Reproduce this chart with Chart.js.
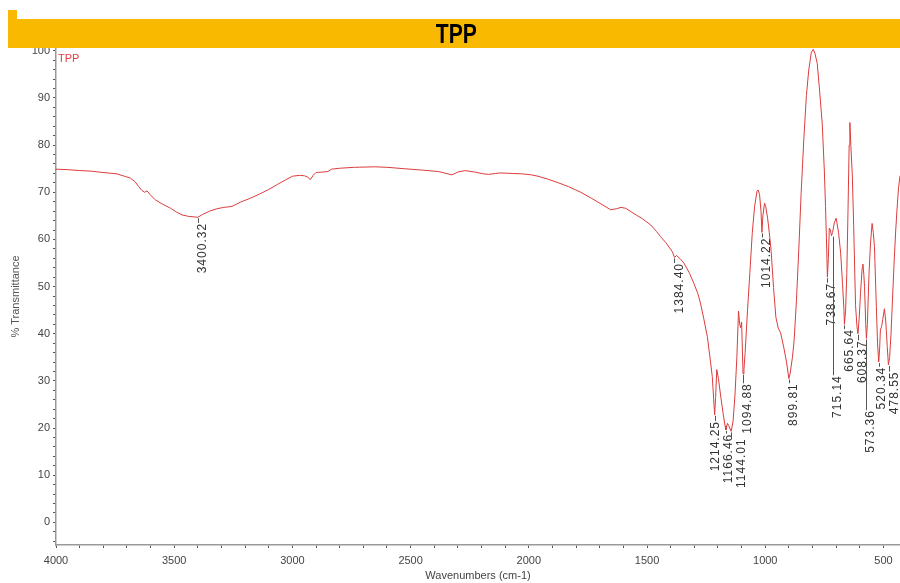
<!DOCTYPE html>
<html>
<head>
<meta charset="utf-8">
<script src="https://cdn.jsdelivr.net/npm/chart.js@4.4.0/dist/chart.umd.min.js"></script>
<style>
  html, body { margin: 0; padding: 0; background: #fff; }
  #wrap { position: relative; width: 900px; height: 583px; }
  canvas { position: absolute; left: 0; top: 0; }
  .bar { position: absolute; background: #f9b900; }
  #title { position: absolute; left: 10px; top: 19px; width: 892px; height: 29px; line-height: 29px;
           text-align: center; color: #000; }
  #title span { display: inline-block; transform: scaleX(0.78); font: bold 27px 'Liberation Sans', Arial, sans-serif; }
</style>
</head>
<body>
<div id="wrap">
  <canvas id="canvas" width="900" height="583"></canvas>
  <div class="bar" style="left:8px;top:10px;width:9px;height:10px"></div>
  <div class="bar" style="left:8px;top:19px;width:892px;height:29px"></div>
  <div id="title"><span>TPP</span></div>
</div>
<script>
// spectrum (cm-1, % transmittance)
const wavenumbers = [
  4000, 3950, 3900, 3855, 3820, 3780, 3742, 3710, 3685, 3665, 3650, 3637, 3625, 3615, 3600,
  3580, 3550, 3515, 3490, 3467, 3440, 3400, 3380, 3350, 3320, 3290, 3256, 3220, 3180, 3140,
  3100, 3062, 3030, 3000, 2970, 2949, 2935, 2924, 2912, 2900, 2870, 2850, 2835, 2800, 2738,
  2650, 2600, 2527, 2450, 2382, 2350, 2325, 2300, 2269, 2230, 2190, 2171, 2140, 2123, 2070,
  2026, 1990, 1961, 1920, 1880, 1832, 1780, 1734, 1690, 1654, 1630, 1610, 1590, 1556, 1520,
  1485, 1460, 1443, 1420, 1393, 1384, 1375, 1360, 1344, 1320, 1302, 1285, 1274, 1260, 1245,
  1235, 1224, 1218, 1214, 1210, 1205, 1198, 1189, 1178, 1170, 1166, 1160, 1155, 1144, 1136,
  1128, 1120, 1113, 1108, 1104, 1100, 1094, 1090, 1085, 1075, 1065, 1055, 1045, 1035, 1030,
  1024, 1018, 1014, 1010, 1003, 998, 990, 983, 975, 965, 955, 945, 935, 922, 910,
  900, 895, 885, 878, 868, 858, 848, 837, 826, 816, 805, 797, 790, 780, 770,
  759, 750, 745, 740, 737, 733, 729, 724, 720, 715, 708, 700, 690, 681, 673,
  667, 665, 660, 655, 650, 645, 642, 638, 632, 626, 618, 612, 608, 603, 597,
  590, 587, 583, 580, 575, 572, 568, 561, 555, 548, 543, 538, 534, 530, 525,
  520, 516, 513, 508, 503, 496, 490, 484, 479, 474, 468, 463, 455, 448, 442,
  436, 430
];
const transmittance = [
  74.9, 74.8, 74.6, 74.5, 74.3, 74.1, 73.9, 73.4, 73.0, 72.2, 71.2, 70.4, 70.0, 70.3, 69.4,
  68.4, 67.5, 66.6, 65.8, 65.2, 64.9, 64.7, 65.3, 66.0, 66.5, 66.8, 67.0, 67.9, 68.7, 69.6,
  70.6, 71.7, 72.6, 73.4, 73.6, 73.5, 73.2, 72.7, 73.6, 74.2, 74.3, 74.4, 74.9, 75.1, 75.3,
  75.4, 75.3, 75.0, 74.7, 74.4, 74.0, 73.7, 74.3, 74.6, 74.3, 73.9, 73.8, 74.0, 74.1, 74.0,
  73.9, 73.7, 73.4, 72.8, 72.1, 71.2, 70.0, 68.7, 67.4, 66.3, 66.5, 66.8, 66.6, 65.5, 64.4,
  63.1, 61.7, 60.6, 59.3, 57.4, 56.2, 56.6, 55.9, 55.0, 52.8, 50.7, 48.5, 46.5, 43.2, 39.4,
  35.5, 30.9, 26.0, 22.8, 26.5, 32.4, 30.5, 27.0, 23.0, 20.5, 19.6, 21.0, 20.6, 19.3, 21.5,
  27.0, 35.0, 44.8, 42.0, 41.3, 42.5, 31.5, 32.5, 36.0, 45.0, 53.0, 61.3, 67.0, 70.2, 70.5,
  69.5, 66.0, 61.5, 65.0, 67.7, 67.0, 64.5, 61.5, 57.5, 49.8, 43.5, 41.2, 40.2, 37.2, 34.0,
  30.5, 31.5, 35.0, 38.5, 47.0, 58.0, 70.0, 81.1, 90.5, 95.9, 99.7, 100.3, 99.5, 97.3, 91.5,
  84.6, 74.5, 67.0, 58.0, 52.0, 56.0, 62.4, 62.0, 60.8, 61.5, 63.5, 64.5, 61.5, 57.1, 50.5,
  45.0, 42.0, 45.0, 52.8, 66.0, 80.0, 84.8, 80.0, 74.0, 63.0, 46.0, 41.5, 40.0, 43.0, 48.6,
  54.0, 54.8, 52.5, 50.0, 42.0, 39.0, 42.0, 52.8, 59.0, 63.4, 61.5, 58.5, 52.0, 45.8, 38.0,
  34.0, 37.0, 40.8, 41.5, 43.0, 45.3, 42.5, 37.3, 33.4, 35.0, 40.0, 45.8, 55.0, 62.0, 66.9,
  71.0, 73.5
];

// labelled peaks: position, curve value at the peak, value where the label starts
const peakWn = [3400.32, 1384.40, 1214.25, 1166.46, 1144.01, 1094.88, 1014.22, 899.81,
                738.67, 715.14, 665.64, 608.37, 573.36, 520.34, 478.55];
const peakT = [64.7, 56.2, 22.8, 19.6, 19.3, 31.5, 61.5, 30.5,
               52.0, 60.8, 42.0, 40.0, 39.0, 34.0, 33.4];
const peakLabelT = [63.5, 55.0, 21.5, 18.8, 17.8, 29.5, 60.4, 29.5,
                    50.8, 31.2, 41.0, 38.6, 23.8, 33.0, 32.0];

const tickFont = { family: "'Liberation Sans', Arial, sans-serif", size: 11 };

const peakLabels = {
  id: 'peakLabels',
  afterDatasetsDraw(chart) {
    const { ctx, scales: { x, y } } = chart;
    ctx.save();
    ctx.font = "12px 'Liberation Sans', Arial, sans-serif";
    ctx.letterSpacing = '1px';
    const items = peakWn.map((wn, i) => {
      const text = wn.toFixed(2);
      const px = x.getPixelForValue(wn);
      return {
        text, px, tx: px + 5,
        y0: y.getPixelForValue(peakT[i]),
        y1: y.getPixelForValue(peakLabelT[i]),
        w: ctx.measureText(text).width
      };
    });
    // push apart labels that would sit on top of each other
    const gap = 13;
    for (let k = 0; k < 80; k++) {
      for (const a of items) {
        for (const b of items) {
          if (a === b || a.tx > b.tx) continue;
          const overlap = a.y1 < b.y1 + b.w && b.y1 < a.y1 + a.w;
          const d = b.tx - a.tx;
          if (overlap && d < gap) {
            a.tx -= (gap - d) / 2;
            b.tx += (gap - d) / 2;
          }
        }
      }
    }
    ctx.strokeStyle = '#555';
    ctx.lineWidth = 1;
    ctx.fillStyle = '#333';
    for (const it of items) {
      ctx.beginPath();
      ctx.moveTo(Math.round(it.px) + 0.5, it.y0 + 1);
      ctx.lineTo(Math.round(it.px) + 0.5, it.y1);
      ctx.stroke();
      ctx.save();
      ctx.translate(it.tx, it.y1);
      ctx.rotate(-Math.PI / 2);
      ctx.textAlign = 'right';
      ctx.textBaseline = 'middle';
      ctx.fillText(it.text, 0, 0);
      ctx.restore();
    }
    ctx.restore();
  },
  afterDraw(chart) {
    const { ctx, chartArea } = chart;
    ctx.save();
    ctx.font = "11px 'Liberation Sans', Arial, sans-serif";
    ctx.fillStyle = '#e04040';
    ctx.fillText('TPP', chartArea.left + 2, chartArea.top + 14);
    ctx.restore();
  }
};

const canvas = document.getElementById('canvas').getContext('2d');

new Chart(canvas, {
  type: 'line',
  data: {
    datasets: [{
      label: 'TPP',
      data: wavenumbers.map((w, i) => ({ x: w, y: transmittance[i] })),
      borderColor: '#dc3c3c',
      borderWidth: 1,
      pointRadius: 0,
      tension: 0,
      fill: false
    }]
  },
  options: {
    responsive: false,
    animation: false,
    layout: { padding: { top: 48, right: 0, bottom: 0, left: 0 } },
    plugins: { legend: { display: false }, tooltip: { enabled: false } },
    scales: {
      x: {
        type: 'linear',
        reverse: true,
        min: 430,
        max: 4000,
        afterFit: (s) => { s.height = 38; },
        border: { color: '#999', width: 1.5 },
        grid: { drawOnChartArea: false, tickLength: 3, tickColor: '#555' },
        ticks: {
          stepSize: 100, autoSkip: false, maxRotation: 0, includeBounds: false,
          padding: 6, color: '#444', font: tickFont,
          callback: (v) => (v % 500 === 0 ? v : '')
        },
        title: {
          display: true, text: 'Wavenumbers (cm-1)', color: '#444',
          font: tickFont, padding: { top: 0, bottom: 0 }
        }
      },
      y: {
        min: -4.8,
        max: 100.6,
        afterFit: (s) => { s.width = 56; },
        border: { color: '#999', width: 1.5 },
        grid: { drawOnChartArea: false, tickLength: 3, tickColor: '#555' },
        ticks: {
          stepSize: 2, autoSkip: false, includeBounds: false,
          padding: 3, color: '#444', font: tickFont,
          callback: (v) => (v % 10 === 0 ? v : '')
        },
        title: {
          display: true, text: '% Transmittance', color: '#555',
          font: { family: "'Liberation Sans', Arial, sans-serif", size: 11 },
          padding: { top: 9, bottom: 0 }
        }
      }
    }
  },
  plugins: [peakLabels]
});
</script>
</body>
</html>
